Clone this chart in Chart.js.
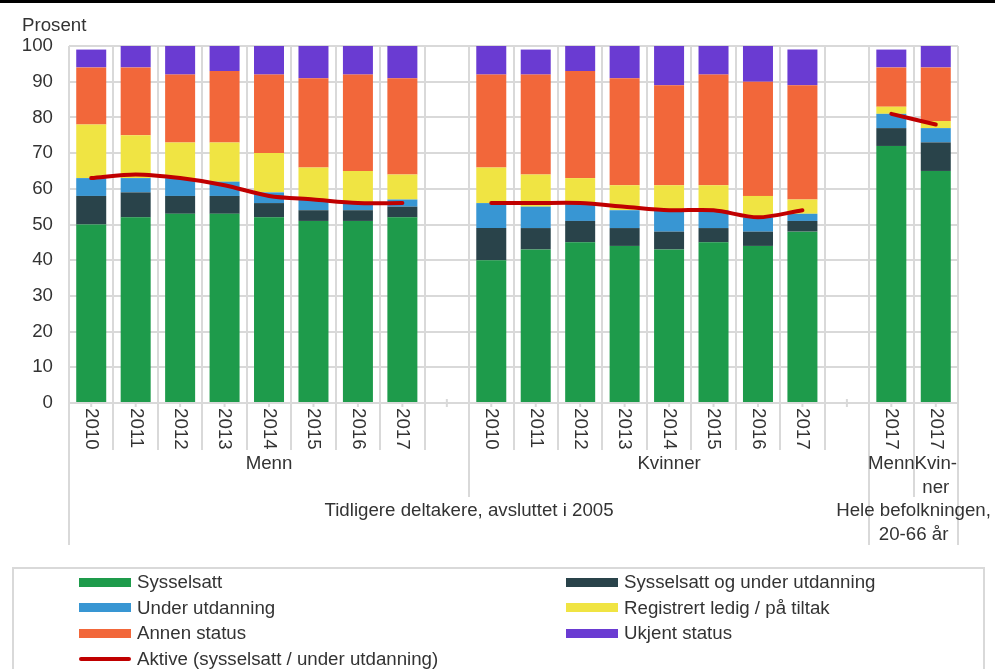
<!DOCTYPE html>
<html>
<head>
<meta charset="utf-8">
<script src="https://cdn.jsdelivr.net/npm/chart.js@4"></script>
<style>
  html, body { margin: 0; padding: 0; background: #fff; }
  body { width: 995px; height: 669px; position: relative; overflow: hidden; font-family: "Liberation Sans", Arial, sans-serif; }
  #topbar { position: absolute; left: 0; top: 0; width: 995px; height: 3px; background: #000; }
  #c { position: absolute; left: 0; top: 0; }
  #legend { position: absolute; left: 12px; top: 567px; width: 973px; height: 120px; box-sizing: border-box;
            border: 2px solid #d9d9d9; border-bottom: none; }
  .item { position: absolute; height: 24px; line-height: 24px; font-size: 18.7px; color: #333; white-space: nowrap; }
  .sw { position: absolute; left: 0; top: 7.5px; width: 52px; height: 9px; }
  .sw.line { top: 10px; height: 4px; border-radius: 2px; }
  .txt { position: absolute; left: 58px; top: 0; }
</style>
</head>
<body>
<canvas id="c" width="995" height="669"></canvas>
<div id="topbar"></div>
<div id="legend"></div>
<script>
// ---- Data ----
const categories = ['2010','2011','2012','2013','2014','2015','2016','2017','',
                    '2010','2011','2012','2013','2014','2015','2016','2017','',
                    '2017','2017'];
const groupLabels = ['Menn', 'Kvinner', 'Menn', 'Kvin-\nner'];
const groupSpans  = [9, 9, 1, 1];
const topLabels   = ['Tidligere deltakere, avsluttet i 2005', 'Hele befolkningen,\n20-66 år'];
const topSpans    = [18, 2];

const sysselsatt = [50,52,53,53,52,51,51,52,null, 40,43,45,44,43,45,44,48,null, 72,65];
const syssUtd    = [8,7,5,5,4,3,3,3,null,        9,6,6,5,5,4,4,3,null,         5,8];
const underUtd   = [5,4,5,4,3,3,2,2,null,        7,6,5,5,6,5,4,2,null,         4,4];
const registrert = [15,12,10,11,11,9,9,7,null,   10,9,7,7,7,7,6,4,null,        2,2];
const annen      = [16,19,19,20,22,25,27,27,null, 26,28,30,30,28,31,32,32,null, 11,15];
const ukjent     = [5,6,8,7,8,9,8,9,null,        8,7,7,9,11,8,10,10,null,      5,6];
const aktive     = [63,64,63,61,58,57,56,56,null, 56,56,56,55,54,54,52,54,null, 81,78];

const yTicks = [0,10,20,30,40,50,60,70,80,90,100];

const FONT = '"Liberation Sans", Arial, sans-serif';
const FS = 18.7;
const TXT = '#333333';
const GRID = '#d9d9d9';

function bar(label, data, color) {
  return { type: 'bar', label, data, backgroundColor: color, borderWidth: 0, stack: 'main', order: 1,
           categoryPercentage: 0.675, barPercentage: 1 };
}

const datasets = [
  bar('Sysselsatt', sysselsatt, '#1e9b4b'),
  bar('Sysselsatt og under utdanning', syssUtd, '#29434a'),
  bar('Under utdanning', underUtd, '#3896d3'),
  bar('Registrert ledig / på tiltak', registrert, '#f0e443'),
  bar('Annen status', annen, '#f2673a'),
  bar('Ukjent status', ukjent, '#6a3bd2'),
  { type: 'line', label: 'Aktive (sysselsatt / under utdanning)', data: aktive, borderColor: '#c00000',
    backgroundColor: '#c00000', borderWidth: 4, pointRadius: 0, tension: 0.3, spanGaps: false,
    stack: 'aktive', order: 0, borderCapStyle: 'round' }
];

const multiLevel = {
  id: 'multiLevel',
  beforeDatasetsDraw(chart) {
    const ctx = chart.ctx, xs = chart.scales.x, bottom = chart.chartArea.bottom;
    ctx.save();
    ctx.strokeStyle = GRID; ctx.lineWidth = 2;
    for (let i = 0; i < categories.length; i++) {
      const cx = xs.getPixelForTick(i);
      ctx.beginPath(); ctx.moveTo(cx, bottom - 4); ctx.lineTo(cx, bottom + 4); ctx.stroke();
    }
    ctx.restore();
  },
  afterDraw(chart) {
    const ctx = chart.ctx, xs = chart.scales.x, bottom = chart.chartArea.bottom;
    const n = categories.length;
    const step = xs.getPixelForTick(1) - xs.getPixelForTick(0);
    const edge = i => xs.getPixelForTick(0) - step / 2 + i * step;
    ctx.save();
    ctx.strokeStyle = GRID; ctx.lineWidth = 2;
    // separator lines
    const groupEdges = []; let acc = 0;
    groupSpans.forEach(s => { acc += s; groupEdges.push(acc); });
    const topEdges = [0]; acc = 0;
    topSpans.forEach(s => { acc += s; topEdges.push(acc); });
    for (let i = 0; i <= n; i++) {
      let len = 47;
      if (groupEdges.includes(i)) len = 94;
      if (topEdges.includes(i)) len = 142;
      const x = Math.round(edge(i));
      ctx.beginPath(); ctx.moveTo(x, bottom); ctx.lineTo(x, bottom + len); ctx.stroke();
    }
    ctx.fillStyle = TXT;
    ctx.font = FS + 'px ' + FONT;
    // year labels rotated
    for (let i = 0; i < n; i++) {
      if (!categories[i]) continue;
      const cx = xs.getPixelForTick(i);
      ctx.save();
      ctx.translate(cx, bottom + 5);
      ctx.rotate(Math.PI / 2);
      ctx.textAlign = 'left'; ctx.textBaseline = 'middle';
      ctx.fillText(categories[i], 0, 0);
      ctx.restore();
    }
    // group labels
    ctx.textAlign = 'center'; ctx.textBaseline = 'middle';
    let start = 0;
    groupLabels.forEach((lab, k) => {
      const cx = (edge(start) + edge(start + groupSpans[k])) / 2;
      lab.split('\n').forEach((ln, j) => ctx.fillText(ln, cx, bottom + 61 + j * 23.5));
      start += groupSpans[k];
    });
    start = 0;
    topLabels.forEach((lab, k) => {
      const cx = (edge(start) + edge(start + topSpans[k])) / 2;
      lab.split('\n').forEach((ln, j) => ctx.fillText(ln, cx, bottom + 108 + j * 24));
      start += topSpans[k];
    });
    // axis title
    ctx.textAlign = 'left'; ctx.textBaseline = 'alphabetic';
    ctx.fillText('Prosent', 22, 31);
    ctx.restore();
  }
};

const chart = new Chart(document.getElementById('c'), {
  data: { labels: categories, datasets },
  options: {
    responsive: false,
    animation: false,
    devicePixelRatio: 1,
    layout: { padding: { top: 46, right: 37, left: 0, bottom: 0 } },
    plugins: { legend: { display: false }, tooltip: { enabled: false } },
    scales: {
      x: {
        stacked: true,
        offset: true,
        grid: { offset: true, color: GRID, lineWidth: 2, drawTicks: false },
        border: { display: true, color: GRID, width: 2 },
        ticks: { display: false },
        afterFit: s => { s.height = 266; }
      },
      y: {
        stacked: true,
        min: 0, max: 100,
        afterBuildTicks: s => { s.ticks = yTicks.map(v => ({ value: v })); },
        grid: { color: GRID, lineWidth: 2, drawTicks: false },
        border: { display: false },
        ticks: { padding: 16, color: TXT, font: { family: FONT, size: FS } },
        afterFit: s => { s.width = 69; }
      }
    }
  },
  plugins: [multiLevel]
});

// HTML legend built from the chart's datasets
const legend = document.getElementById('legend');
const rowY = [582, 607.7, 633.3, 659];
chart.data.datasets.forEach((ds, i) => {
  const col = i % 2, row = Math.floor(i / 2);
  const item = document.createElement('div');
  item.className = 'item';
  item.style.left = ((col ? 566 : 79) - 14) + 'px';
  item.style.top = (rowY[row] - 567 - 2 - 12) + 'px';
  const sw = document.createElement('span');
  sw.className = 'sw' + (ds.type === 'line' ? ' line' : '');
  sw.style.background = ds.type === 'line' ? ds.borderColor : ds.backgroundColor;
  const t = document.createElement('span');
  t.className = 'txt';
  t.textContent = ds.label;
  item.appendChild(sw); item.appendChild(t);
  legend.appendChild(item);
});
</script>
</body>
</html>
